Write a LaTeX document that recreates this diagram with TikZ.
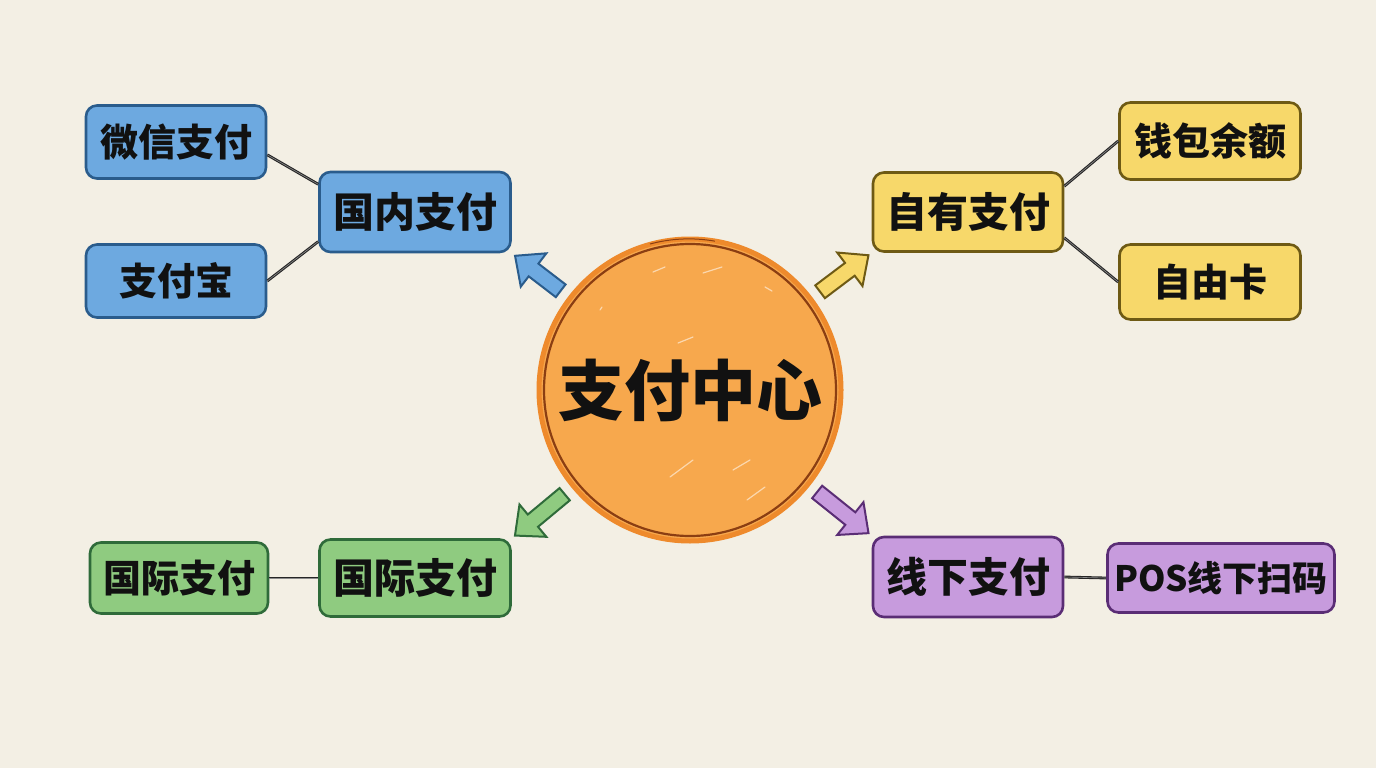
\documentclass[tikz,border=0pt]{standalone}
\usepackage{fontspec}
\newfontfamily\cjk{Noto Sans CJK SC}
\usetikzlibrary{shapes.arrows,calc}
\definecolor{bg}{HTML}{F3EFE4}
\definecolor{bluef}{HTML}{6DA9E0}
\definecolor{blued}{HTML}{2A5C8C}
\definecolor{yelf}{HTML}{F7D86A}
\definecolor{yeld}{HTML}{6E5A14}
\definecolor{grnf}{HTML}{8FCB80}
\definecolor{grnd}{HTML}{2F6B3A}
\definecolor{purf}{HTML}{C79BDD}
\definecolor{purd}{HTML}{5A2D75}
\definecolor{orgf}{HTML}{F7A84D}
\definecolor{orgo}{HTML}{EE8A2C}
\definecolor{orgd}{HTML}{8B3E12}
\definecolor{ink}{HTML}{111111}
\tikzset{
  box/.style={rounded corners=11pt, line width=2.6pt, inner sep=0pt, text=ink},
  bluebox/.style={box, fill=bluef, draw=blued},
  yelbox/.style={box, fill=yelf, draw=yeld},
  grnbox/.style={box, fill=grnf, draw=grnd},
  purbox/.style={box, fill=purf, draw=purd},
  leaftext/.style={font=\cjk\bfseries\fontsize{38}{40}\selectfont},
  parenttext/.style={font=\cjk\bfseries\fontsize{41}{43}\selectfont},
  link/.style={draw=black!85, line width=1.1pt, double=black!45, double distance=0.6pt},
  fatarrow/.style={single arrow, inner xsep=0pt, inner ysep=7pt, line width=2pt,
    single arrow head extend=13pt, single arrow tip angle=84},
  glint/.style={white, opacity=0.55, line width=1.2pt, line cap=round}
}
\newcommand{\fatto}[5]{% #1 start, #2 tip, #3 fill, #4 draw, #5 name
  \path let \p1=(#1), \p2=(#2), \n1={atan2(\y2-\y1,\x2-\x1)}, \n2={veclen(\x2-\x1,\y2-\y1)} in
    (\p1) node[fatarrow, fill=#3, draw=#4, minimum height={\n2*1pt}, rotate={\n1}, anchor=tail] (#5) {};
}
\begin{document}
\begin{tikzpicture}[x=1pt,y=-1pt]
\fill[bg] (0,0) rectangle (1376,768);
\useasboundingbox (0,0) rectangle (1376,768);

% centre
\node[circle, fill=orgf, draw=orgo, line width=5pt, minimum size=302pt, inner sep=0pt] (c) at (690,390) {};
\draw[orgd, line width=2.2pt] (c.center) circle (146);
\draw[orgd, line width=1pt] ($(c.center)+(-40,-146)$) arc[start angle=-105, end angle=-80, radius=150];
\draw[glint] (653,272) -- (665,267);
\draw[glint] (703,273) -- (722,267);
\draw[glint] (765,287) -- (772,291);
\draw[glint] (678,343) -- (693,337);
\draw[glint] (670,477) -- (693,460);
\draw[glint] (733,470) -- (750,460);
\draw[glint] (747,500) -- (765,487);
\draw[glint] (600,310) -- (602,307);
\node[font=\cjk\bfseries\fontsize{66}{68}\selectfont, text=ink] (ct) at (c.center) {支付中心};

% blue
\node[bluebox, leaftext, minimum width=180pt, minimum height=73pt] (wx) at (176,142) {微信支付};
\node[bluebox, leaftext, minimum width=180pt, minimum height=73pt] (ali) at (176,281) {支付宝};
\node[bluebox, parenttext, minimum width=191pt, minimum height=80pt] (dom) at (415,212) {国内支付};
% yellow
\node[yelbox, parenttext, minimum width=190pt, minimum height=79pt] (own) at (968,212) {自有支付};
\node[yelbox, leaftext, minimum width=181pt, minimum height=77pt] (qb) at (1210,141) {钱包余额};
\node[yelbox, leaftext, minimum width=181pt, minimum height=75pt] (zyk) at (1210,282) {自由卡};
% green
\node[grnbox, leaftext, minimum width=178pt, minimum height=71pt] (intl1) at (179,578) {国际支付};
\node[grnbox, parenttext, minimum width=191pt, minimum height=77pt] (intl) at (415,578) {国际支付};
% purple
\node[purbox, parenttext, minimum width=190pt, minimum height=80pt] (off) at (968,577) {线下支付};
\node[purbox, font=\cjk\bfseries\fontsize{35}{37}\selectfont, minimum width=227pt, minimum height=69pt] (pos) at (1221,578) {POS线下扫码};

% links
\draw[link] (wx.-8) -- (dom.164);
\draw[link] (ali.east) -- (dom.-163);
\draw[link] (own.15) -- (qb.west);
\draw[link] (own.-15) -- (zyk.west);
\draw[link] (intl1.east) -- (intl.west);
\draw[link] (off.east) -- (pos.west);

% fat arrows from centre to the branches
\fatto{$(c.center)!162pt!(dom.south east)$}{$(dom.south east)!5pt!(c.center)$}{bluef}{blued}{a1}
\fatto{$(c.center)!162pt!(own.south west)$}{$(own.south west)!5pt!(c.center)$}{yelf}{yeld}{a2}
\fatto{$(c.center)!162pt!(intl.north east)$}{$(intl.north east)!5pt!(c.center)$}{grnf}{grnd}{a3}
\fatto{$(c.center)!162pt!(off.north west)$}{$(off.north west)!5pt!(c.center)$}{purf}{purd}{a4}
\end{tikzpicture}
\end{document}
